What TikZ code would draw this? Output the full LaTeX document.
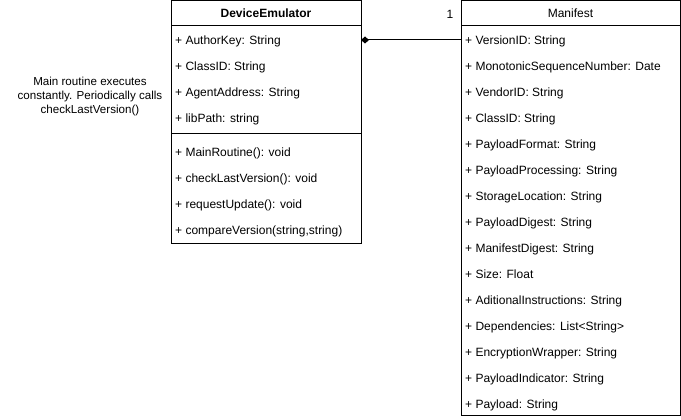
\documentclass[tikz,border=0pt]{standalone}
\usepackage{fontspec}
\setmainfont{Liberation Sans}
\usetikzlibrary{arrows.meta}
\begin{document}
\begin{tikzpicture}[x=1pt,y=-1pt,
  every node/.style={font=\fontsize{12}{15}\selectfont},
  box/.style={draw=black,line width=1pt,fill=white,anchor=north west,inner sep=0pt,outer sep=0pt},
  row/.style={anchor=base west,inner sep=0pt},
  conn/.style={line width=1pt,{Diamond[length=8pt,width=7pt]}-}]
\useasboundingbox (0,0) rectangle (681,420);
% DeviceEmulator
\node[box,minimum width=190pt,minimum height=25pt,font=\fontsize{12}{15}\selectfont\bfseries] (deh) at (171,1) {DeviceEmulator};
\node[box,minimum width=190pt,minimum height=108pt] (dea) at (171,26) {};
\node[box,minimum width=190pt,minimum height=109pt] (dem) at (171,134) {};
\foreach \n/\t [count=\i from 0] in {a1/{+ AuthorKey: String},a2/{+ ClassID: String},a3/{+ AgentAddress: String},a4/{+ libPath: string}}
  \node[row] (\n) at (175,44.3+26*\i) {\t};
\foreach \n/\t [count=\i from 0] in {m1/{+ MainRoutine(): void},m2/{+ checkLastVersion(): void},m3/{+ requestUpdate(): void},m4/{+ compareVersion(string,string)}}
  \node[row] (\n) at (175,156.3+26*\i) {\t};
% Manifest
\node[box,minimum width=219pt,minimum height=25pt] (mh) at (461,1) {Manifest};
\node[box,minimum width=219pt,minimum height=389pt] (mb) at (461,26) {};
\foreach \n/\t [count=\i from 0] in {
  r1/{+ VersionID: String},
  r2/{+ MonotonicSequenceNumber: Date},
  r3/{+ VendorID: String},
  r4/{+ ClassID: String},
  r5/{+ PayloadFormat: String},
  r6/{+ PayloadProcessing: String},
  r7/{+ StorageLocation: String},
  r8/{+ PayloadDigest: String},
  r9/{+ ManifestDigest: String},
  r10/{+ Size: Float},
  r11/{+ AditionalInstructions: String},
  r12/{+ Dependencies: List<String>},
  r13/{+ EncryptionWrapper: String},
  r14/{+ PayloadIndicator: String},
  r15/{+ Payload: String}}
  \node[row] (\n) at (465,44.3+26*\i) {\t};
% connector
\coordinate (cs) at (dea.north east |- 0,40);
\coordinate (ce) at (mb.north west |- 0,40);
\draw[conn] (cs) -- (ce);
\node[anchor=base,inner sep=0pt] (one) at (450,18.3) {1};
% note
\node[align=center,inner sep=0pt,font=\fontsize{11.6}{14}\selectfont] (note) at (90,96.5) {Main routine executes\\constantly. Periodically calls\\checkLastVersion()};
\end{tikzpicture}
\end{document}
